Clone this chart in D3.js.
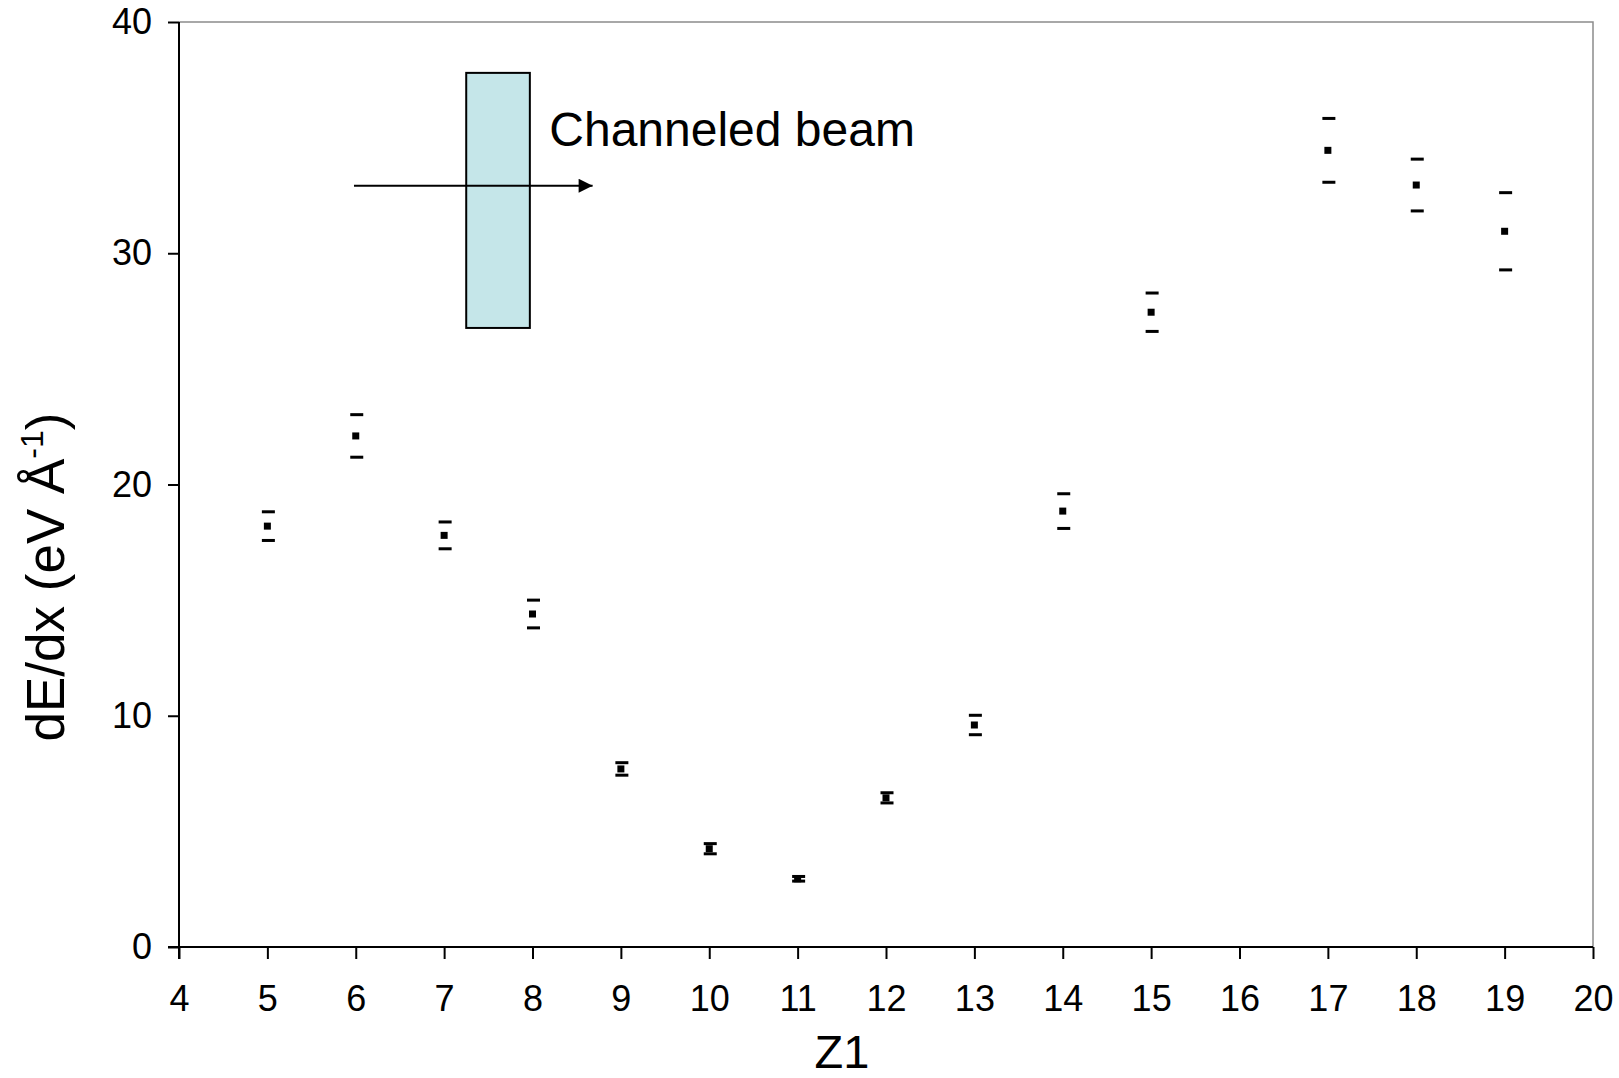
<!DOCTYPE html>
<html>
<head>
<meta charset="utf-8">
<script src="https://cdn.jsdelivr.net/npm/d3@7"></script>
<style>
  body { margin: 0; background: #fff; }
  svg text { font-family: "Liberation Sans", Arial, sans-serif; fill: #000; }
</style>
</head>
<body>
<svg id="chart" width="1619" height="1078"></svg>
<script>
// stopping power per projectile atomic number
const z1Values = [5, 6, 7, 8, 9, 10, 11, 12, 13, 14, 15, 17, 18, 19];
const dEdx = [18.2, 22.1, 17.8, 14.4, 7.7, 4.25, 2.95, 6.45, 9.6, 18.85, 27.45, 34.45, 32.95, 30.95];
const dEdxErr = [0.62, 0.92, 0.58, 0.6, 0.27, 0.22, 0.1, 0.22, 0.42, 0.75, 0.83, 1.38, 1.12, 1.67];
const xTicks = d3.range(4, 21);
const yTicks = [0, 10, 20, 30, 40];

const margins = { left: 179, right: 26, top: 22, bottom: 131 };
const width = 1619, height = 1078;

const svg = d3.select("#chart");

const xScale = d3.scaleLinear().domain([4, 20]).range([margins.left, width - margins.right]);
const yScale = d3.scaleLinear().domain([0, 40]).range([height - margins.bottom, margins.top]);

// plot area frame (Excel style: gray top/right)
svg.append("path")
    .attr("d", `M${xScale(4)},${yScale(40)}H${xScale(20)}V${yScale(0)}`)
    .attr("fill", "none")
    .attr("stroke", "#8c8c8c")
    .attr("stroke-width", 1.5);

const xAxis = d3.axisBottom(xScale).tickValues(xTicks).tickSize(12).tickPadding(26).tickFormat(d3.format("d"));
const yAxis = d3.axisLeft(yScale).tickValues(yTicks).tickSize(11).tickPadding(16).tickFormat(d3.format("d"));

const gx = svg.append("g")
    .attr("transform", `translate(0,${yScale(0)})`)
    .call(xAxis);
const gy = svg.append("g")
    .attr("transform", `translate(${xScale(4)},0)`)
    .call(yAxis);

[gx, gy].forEach(g => {
    g.select(".domain").attr("stroke", "#000").attr("stroke-width", 2);
    g.selectAll(".tick line").attr("stroke", "#000").attr("stroke-width", 2);
    g.selectAll(".tick text")
        .style("font-family", "'Liberation Sans', Arial, sans-serif")
        .style("font-size", "36px")
        .attr("fill", "#000");
});
// axes drawn without the outer tick stubs
gx.select(".domain").attr("d", `M${xScale(4) - 11},0H${xScale(20)}`);
gy.select(".domain").attr("d", `M0,${yScale(40)}V${yScale(0) + 12}`);

// axis titles
svg.append("text")
    .attr("x", 842)
    .attr("y", 1068)
    .attr("text-anchor", "middle")
    .style("font-size", "47px")
    .text("Z1");

const yTitle = svg.append("text")
    .attr("transform", `translate(64,${577}) rotate(-90)`)
    .attr("text-anchor", "middle")
    .style("font-size", "53px");
yTitle.append("tspan").text("dE/dx (eV Å");
yTitle.append("tspan").attr("dy", -21).style("font-size", "32px").text("-1");
yTitle.append("tspan").attr("dy", 21).text(")");

// error bars: caps only, like the original
const data = z1Values.map((z, i) => ({ z, v: dEdx[i], e: dEdxErr[i] }));
const capW = 13;

const pts = svg.append("g").attr("class", "points");
pts.selectAll(".cap-hi")
    .data(data).join("rect")
    .attr("x", d => xScale(d.z) - capW / 2 + 1)
    .attr("y", d => yScale(d.v + d.e) - 1.5)
    .attr("width", capW).attr("height", 3)
    .attr("fill", "#000");
pts.selectAll(".cap-lo")
    .data(data).join("rect")
    .attr("x", d => xScale(d.z) - capW / 2 + 1)
    .attr("y", d => yScale(d.v - d.e) - 1.5)
    .attr("width", capW).attr("height", 3)
    .attr("fill", "#000");
pts.selectAll(".marker")
    .data(data).join("rect")
    .attr("x", d => xScale(d.z) - 3.5)
    .attr("y", d => yScale(d.v) - 3.5)
    .attr("width", 7).attr("height", 7)
    .attr("fill", "#000");

// channeled beam sketch
svg.append("defs").append("marker")
    .attr("id", "arrow")
    .attr("viewBox", "0 0 10 10")
    .attr("refX", 10).attr("refY", 5)
    .attr("markerWidth", 16).attr("markerHeight", 14)
    .attr("markerUnits", "userSpaceOnUse")
    .attr("orient", "auto")
    .append("path").attr("d", "M0,0L10,5L0,10Z").attr("fill", "#000");

svg.append("rect")
    .attr("x", xScale(7.25))
    .attr("y", yScale(37.8))
    .attr("width", xScale(7.97) - xScale(7.25))
    .attr("height", yScale(26.77) - yScale(37.8))
    .attr("fill", "#c5e6e9")
    .attr("stroke", "#000")
    .attr("stroke-width", 2);

svg.append("line")
    .attr("x1", xScale(5.98)).attr("x2", xScale(8.68))
    .attr("y1", yScale(32.92)).attr("y2", yScale(32.92))
    .attr("stroke", "#000")
    .attr("stroke-width", 2)
    .attr("marker-end", "url(#arrow)");

svg.append("text")
    .attr("x", xScale(8.19))
    .attr("y", yScale(34.64))
    .style("font-size", "48px")
    .text("Channeled beam");
</script>
</body>
</html>
